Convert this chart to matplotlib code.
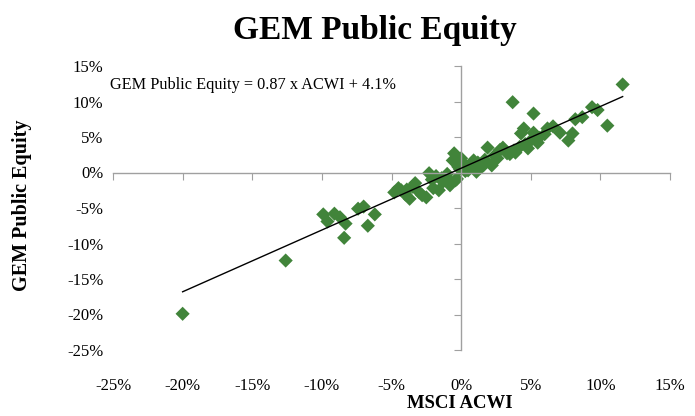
import matplotlib
matplotlib.use("Agg")
import matplotlib.pyplot as plt
import numpy as np
from matplotlib.ticker import FuncFormatter

# Data (% returns)
acwi = [-20.0, -12.6, -9.9, -9.6, -9.1, -8.7, -8.3, -8.4, -7.4, -7.0, -6.7, -6.2,
        -4.8, -4.3, -4.5, -3.9, -3.7, -3.3, -3.0, -2.8, -2.5, -2.3, -2.0, -1.8,
        -1.6, -1.3, -1.0, -0.8, -0.6, -0.5, -0.4, -0.3, -0.1, 0.0, 0.2, 0.5,
        0.6, 0.9, 1.1, 1.4, 1.7, 1.9, 2.2, 2.6, 2.8, 3.0, 3.3, 3.8, 3.9, 4.3,
        4.5, 4.8, 5.0, 5.2, 5.5, 5.6, 3.7, 5.2, 6.2, 7.1, 7.7, 8.0, 8.2, 8.7,
        9.4, 9.8, 10.5, 11.6, 6.0, 6.6, 4.2, 2.4, 1.2, -0.2, -1.1,
        -4.0, -3.5, -2.1, -1.4, 0.3, 1.6, 3.5, 4.6]
gem = [-19.9, -12.4, -5.9, -6.9, -5.8, -6.3, -7.2, -9.2, -5.1, -4.8, -7.5, -5.9,
       -2.8, -2.5, -2.2, -2.4, -3.7, -1.5, -2.8, -3.2, -3.5, -0.1, -2.2, -0.5,
       -2.5, -1.3, -0.2, -1.8, 1.7, 2.7, -1.1, -0.9, 0.5, 2.0, 1.2, 0.3,
       0.9, 1.7, 0.1, 0.7, 1.8, 3.5, 1.0, 2.0, 3.2, 3.5, 2.7, 3.1, 2.8, 5.5,
       6.2, 3.4, 4.5, 5.6, 4.2, 4.9, 9.9, 8.3, 6.2, 5.6, 4.5, 5.5, 7.5, 7.8,
       9.2, 8.8, 6.6, 12.4, 5.4, 6.5, 3.6, 2.4, 1.4, 0.8, -0.6,
       -3.1, -2.0, -1.0, -0.8, 0.2, 1.0, 2.6, 4.0]

slope = 0.87
intercept = 0.6
equation = "GEM Public Equity = 0.87 x ACWI + 4.1%"
ticks = [-25, -20, -15, -10, -5, 0, 5, 10, 15]

plt.rcParams['font.family'] = ['Liberation Serif', 'DejaVu Serif']

fig = plt.figure(figsize=(6.95, 4.16), dpi=100)
pos = [113/695, 1 - (350/416), 557/695, 284/416]
ax = fig.add_axes(pos)
ax.set_xlim(-25, 15)
ax.set_ylim(-25, 15)
ax.set_xticks(ticks)
ax.set_yticks(ticks)
fmt = FuncFormatter(lambda v, p: f"{int(v)}%")
ax.xaxis.set_major_formatter(fmt)
ax.yaxis.set_major_formatter(fmt)
for s in ax.spines.values():
    s.set_visible(False)
ax.tick_params(length=0, labelsize=12)
ax.tick_params(axis='x', pad=20)
ax.tick_params(axis='y', pad=7)

# axes crossing at origin
ax2 = fig.add_axes(pos, sharex=ax, sharey=ax)
ax2.patch.set_visible(False)
ax2.spines['top'].set_visible(False)
ax2.spines['right'].set_visible(False)
ax2.spines['left'].set_position(('data', 0))
ax2.spines['bottom'].set_position(('data', 0))
for k in ('left', 'bottom'):
    ax2.spines[k].set_color('#a0a0a0')
    ax2.spines[k].set_linewidth(1.0)
ax2.tick_params(direction='out', length=5, color='#a0a0a0', labelleft=False, labelbottom=False)

xs = np.array([min(acwi), max(acwi)])
ax2.plot(xs, slope * xs + intercept, color='black', lw=1.0, zorder=3)
ax2.scatter(acwi, gem, marker='D', s=52, color='#41843a', edgecolors='none', zorder=2)

ax.text(-25.2, 12.3, equation, fontsize=11.7, va='center', ha='left')

fig.text(375/695, 1 - 31/416, "GEM Public Equity", fontsize=24, fontweight='bold', ha='center', va='center')
fig.text(460/695, 1 - 404/416, "MSCI ACWI", fontsize=13.5, fontweight='bold', ha='center', va='center')
fig.text(22/695, 1 - 205/416, "GEM Public Equity", fontsize=14.5, fontweight='bold', ha='center', va='center', rotation=90)

fig.savefig("out.png", dpi=100)
